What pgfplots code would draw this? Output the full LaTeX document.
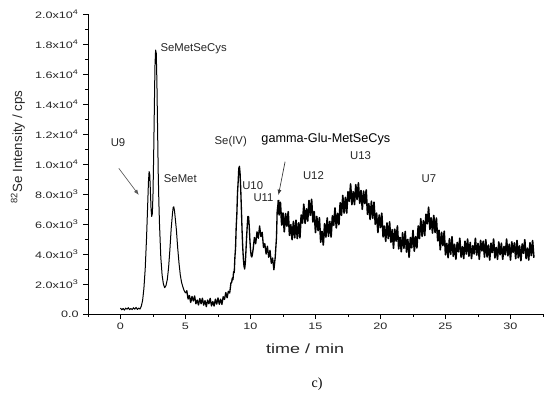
\documentclass[border=0pt]{standalone}
\usepackage{fontspec}
\setmainfont{Liberation Sans}
\newfontfamily\widesans[FakeStretch=1.35]{Liberation Sans}
\newfontfamily\serifc{Liberation Serif}
\usepackage{pgfplots}
\pgfplotsset{compat=1.18}
\usetikzlibrary{arrows.meta,calc}
\begin{document}
\begin{tikzpicture}
\begin{axis}[
  scale only axis, width=341.25pt, height=225pt,
  xmin=-2.5, xmax=32.5, ymin=0, ymax=20000,
  axis x line*=bottom, axis y line*=left,
  axis line style={-, line width=0.7pt},
  tick align=outside, major tick length=3.5pt, minor tick length=2pt,
  tick style={line width=0.6pt, black},
  xtick={0,5,10,15,20,25,30}, xticklabels={0,5,10,15,20,25,30},
  minor xtick={-2.5,2.5,7.5,12.5,17.5,22.5,27.5,32.5},
  ytick={0,2000,4000,6000,8000,10000,12000,14000,16000,18000,20000},
  yticklabels={0.0,2.0x10\textsuperscript{3},4.0x10\textsuperscript{3},6.0x10\textsuperscript{3},8.0x10\textsuperscript{3},1.0x10\textsuperscript{4},1.2x10\textsuperscript{4},1.4x10\textsuperscript{4},1.6x10\textsuperscript{4},1.8x10\textsuperscript{4},2.0x10\textsuperscript{4}},
  minor ytick={1000,3000,5000,7000,9000,11000,13000,15000,17000,19000},
  tick label style={font=\widesans\fontsize{7}{8}\selectfont, text=black!85},
  scaled y ticks=false,
  clip=false,
]
% segment 1: clean peaks
\addplot[black, line width=0.75pt, line join=round] table {
t v
0.0 400
0.1 280
0.2 370
0.3 260
0.4 390
0.5 320
0.6 420
0.7 290
0.8 370
0.9 290
1.0 420
1.1 320
1.2 440
1.3 300
1.4 400
1.5 330
1.6 520
1.7 900
1.8 1700
1.9 3000
2.0 5000
2.1 7500
2.15 8800
2.2 9500
2.25 9300
2.3 8200
2.35 7000
2.4 6500
2.45 6700
2.5 8000
2.55 10500
2.6 13500
2.65 16500
2.7 17600
2.75 17400
2.8 15500
2.85 12500
2.9 9500
2.95 7500
3.0 6000
3.1 3800
3.2 2600
3.3 2000
3.4 1750
3.5 1900
3.6 2300
3.7 3100
3.8 4300
3.9 5700
4.0 6700
4.05 7100
4.1 7150
4.15 6900
4.2 6500
4.3 5600
4.4 4400
4.5 3400
4.6 2600
4.7 2100
4.8 1800
4.9 1550
5.0 1400
};
% segment 2: baseline and Se(IV)
\addplot[black, line width=1.0pt, line join=round] table {
t v
5.0 1400
5.1 1550
5.2 1000
5.3 1230
5.4 770
5.5 1170
5.6 870
5.7 1200
5.8 680
5.9 930
6.0 600
6.1 1030
6.2 680
6.3 1050
6.4 590
6.5 890
6.6 490
6.7 930
6.8 680
6.9 1040
7.0 540
7.1 830
7.2 530
7.3 990
7.4 660
7.5 1070
7.6 650
7.7 990
7.8 640
7.9 1150
8.0 970
8.1 1430
8.2 1080
8.3 1510
8.4 1400
8.5 2100
8.55 2100
8.6 2400
8.65 2290
8.7 2820
8.75 2760
8.8 3780
8.85 4410
8.9 5800
8.95 6650
9.0 8060
9.05 8800
9.1 9700
9.15 9850
9.2 9350
9.25 8300
9.3 7000
9.35 5600
9.4 4500
9.45 3700
9.5 3200
9.55 3000
9.6 3400
9.65 4200
9.7 5100
9.75 5900
9.8 6500
9.85 6500
9.9 5900
9.95 5000
10.0 4300
10.05 3900
10.1 3800
10.15 4000
10.2 4300
10.3 5100
10.4 4680
10.5 5480
10.6 5050
10.7 5870
10.8 5170
10.9 5450
11.0 4440
11.1 4690
11.2 4000
11.3 4520
11.4 3780
11.5 4250
11.6 3380
11.7 3730
11.8 2950
11.9 3770
12.0 5110
12.05 6800
12.1 7200
12.15 7600
};
% segment 3: noisy humps
\addplot[black, line width=1.2pt, line join=round] table {
t v
12.15 7600
12.2 6600
12.3 7450
12.4 5930
12.5 6730
12.6 5480
12.7 6700
12.8 5860
12.9 6820
13.0 5240
13.1 5960
13.2 4950
13.3 6170
13.4 5080
13.5 6250
13.6 5030
13.7 6080
13.8 5080
13.9 6600
14.0 6060
14.1 7320
14.2 6040
14.3 7010
14.4 6200
14.5 7570
14.6 6580
14.7 7650
14.8 6130
14.9 6830
15.0 5430
15.1 6500
15.2 5560
15.3 6420
15.4 4790
15.5 5510
15.6 4600
15.7 6020
15.8 5130
15.9 6400
16.0 5180
16.1 6180
16.2 5130
16.3 6550
16.4 5910
16.5 7070
16.6 5740
16.7 6710
16.8 5950
16.9 7420
17.0 6580
17.1 7900
17.2 6730
17.3 7780
17.4 6730
17.5 8150
17.6 7510
17.7 8670
17.8 7290
17.9 8160
18.0 7300
18.1 8620
18.2 7630
18.3 8750
18.4 7380
18.5 8230
18.6 6980
18.7 8200
18.8 7360
18.9 8270
19.0 6640
19.1 7360
19.2 6300
19.3 7520
19.4 6380
19.5 7450
19.6 5980
19.7 6730
19.8 5430
19.9 6600
20.0 5760
20.1 6720
20.2 5140
20.3 5860
20.4 4850
20.5 6070
20.6 5030
20.7 6150
20.8 4780
20.9 5630
21.0 4380
21.1 5650
21.2 4860
21.3 5870
21.4 4340
21.5 5110
21.6 4150
21.7 5420
21.8 4380
21.9 5500
22.0 4130
22.1 4980
22.2 3780
22.3 5100
22.4 4410
22.5 5570
22.6 4190
22.7 5160
22.8 4400
22.9 5870
23.0 5030
23.1 6350
23.2 5180
23.3 6230
23.4 5230
23.5 6650
23.6 6010
23.7 7120
23.8 5640
23.9 6410
24.0 5400
24.1 6570
24.2 5430
24.3 6400
24.4 4880
24.5 5580
24.6 4280
24.7 5450
24.8 4560
24.9 5520
25.0 3940
25.1 4710
25.2 3750
25.3 5020
25.4 3980
25.5 5150
25.6 3850
25.7 4650
25.8 3650
25.9 4770
26.0 4150
26.1 5050
26.2 3790
26.3 4490
26.4 3700
26.5 4850
26.6 4000
26.7 5000
26.8 3850
26.9 4770
27.0 3700
27.1 4550
27.2 4000
27.3 5050
27.4 3930
27.5 4700
27.6 3650
27.7 4910
27.8 4210
27.9 4850
28.0 3790
28.1 4950
28.2 3800
28.3 4600
28.4 3600
28.5 4720
28.6 4100
28.7 5000
28.8 3740
28.9 4440
29.0 3650
29.1 4800
29.2 3950
29.3 4720
29.4 3650
29.5 4500
29.6 3950
29.7 5000
29.8 3880
29.9 4650
30.0 3600
30.1 4810
30.2 4110
30.3 4750
30.4 3690
30.5 4900
30.6 3750
30.7 4550
30.8 3550
30.9 4670
31.0 4050
31.1 4950
31.2 3690
31.3 4390
31.4 3600
31.5 4750
31.6 3900
31.7 4900
31.8 3750
};
\begin{scope}[every node/.style={inner sep=0pt, font=\fontsize{8.5}{10}\selectfont, text=black!85}]
\node at (axis cs:-0.19,11430) {U9};
\node at (axis cs:5.63,17670) {SeMetSeCys};
\node at (axis cs:4.6,9020) {SeMet};
\node at (axis cs:8.48,11490) {Se(IV)};
\node[font=\fontsize{9.5}{11}\selectfont, text=black] at (axis cs:15.8,11650) {gamma-Glu-MetSeCys};
\node at (axis cs:10.17,8590) {U10};
\node at (axis cs:11.0,7770) {U11};
\node at (axis cs:14.84,9210) {U12};
\node at (axis cs:18.47,10540) {U13};
\node at (axis cs:23.73,8990) {U7};
\end{scope}
\draw[black!65, line width=0.5pt, -{Latex[length=4pt,width=3pt]}] (axis cs:-0.13,9713) -- (axis cs:1.41,7933);
\draw[black!80, line width=0.5pt, -{Latex[length=4pt,width=3pt]}] (axis cs:12.66,10150) -- (axis cs:12.15,7930);
\node[font=\widesans\fontsize{10}{12}\selectfont, text=black!85] at (axis cs:14.2,-2333) {time / min};
\node[rotate=90, font=\fontsize{10}{12}\selectfont, text=black!85] at (axis cs:-7.9,11133) {\textsuperscript{82}Se Intensity / cps};
\node[font=\serifc\fontsize{10.5}{12}\selectfont] at (axis cs:15.12,-4667) {c)};
\end{axis}
\pgfresetboundingbox
\path[use as bounding box] ($(current axis.south west)+(-66pt,-62.25pt)$) rectangle ($(current axis.north east)+(5.25pt,10.5pt)$);
\end{tikzpicture}
\end{document}
